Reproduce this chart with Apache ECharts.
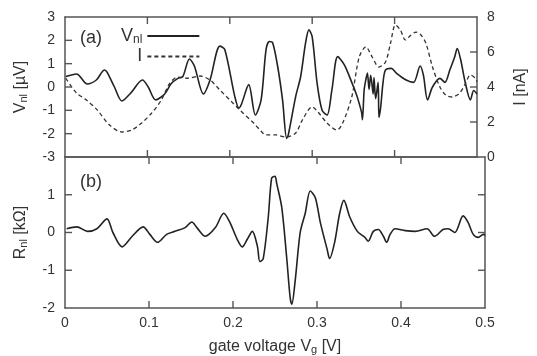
<!DOCTYPE html>
<html><head><meta charset="utf-8">
<script src="https://cdn.jsdelivr.net/npm/echarts@6/dist/echarts.min.js"></script>
<style>html,body{margin:0;padding:0;background:#fff}#c{width:537px;height:356px}</style>
</head><body><div id="c"></div>
<script>
// gate voltage (V) and V_nl (µV)
const vnlX = [0.001,0.014,0.027,0.038,0.048,0.051,0.060,0.069,0.080,0.094,0.101,0.110,0.121,0.129,0.137,0.143,0.151,0.157,0.168,0.176,0.188,0.194,0.206,0.211,0.214,0.223,0.231,0.238,0.244,0.248,0.252,0.258,0.264,0.269,0.271,0.280,0.286,0.292,0.296,0.300,0.306,0.312,0.318,0.324,0.331,0.339,0.348,0.354,0.357,0.360,0.361,0.363,0.365,0.367,0.369,0.371,0.374,0.375,0.377,0.380,0.381,0.383,0.386,0.389,0.396,0.402,0.414,0.423,0.431,0.435,0.440,0.446,0.455,0.461,0.467,0.473,0.476,0.480,0.486,0.492,0.496,0.500];
const vnlY = [0.45,0.56,0.13,0.30,0.73,0.64,0.0,-0.6,-0.25,0.3,0.0,-0.55,-0.3,0.15,0.37,0.45,1.2,0.9,-0.3,0.3,1.75,1.6,-0.4,-0.9,-0.75,0.1,-1.2,-0.55,1.6,1.95,1.9,0.9,-0.55,-2.2,-2.05,-0.4,0.45,1.9,2.45,2.15,0.15,-1.0,-1.2,-0.1,1.3,0.95,0.2,-0.35,-0.7,-1.1,-1.4,-0.15,0.3,0.6,-0.1,0.5,-0.3,0.4,-0.5,0.2,-1.3,-0.9,0.2,0.73,0.8,0.6,0.3,0.2,0.9,0.5,-0.55,0.0,0.37,0.2,0.73,1.3,1.65,1.2,0.15,-0.55,-0.15,-0.3];
// current I (nA)
const curX = [0.001,0.014,0.026,0.039,0.054,0.069,0.081,0.093,0.105,0.117,0.127,0.137,0.149,0.164,0.176,0.188,0.200,0.212,0.229,0.240,0.244,0.256,0.268,0.280,0.288,0.300,0.307,0.318,0.330,0.337,0.348,0.357,0.365,0.373,0.381,0.389,0.395,0.401,0.407,0.413,0.420,0.426,0.432,0.438,0.446,0.455,0.462,0.470,0.479,0.486,0.492,0.498,0.500];
const curY = [4.5,3.66,3.26,2.69,1.83,1.43,1.54,1.94,2.5,3.26,4.2,4.57,4.5,4.63,4.4,3.83,3.26,2.69,1.94,1.37,1.26,1.26,1.14,1.37,2.11,2.86,2.57,1.94,1.54,1.94,3.43,5.7,6.3,5.7,5.14,5.43,6.5,7.54,7.26,6.69,6.97,7.14,6.97,6.5,5.14,4.0,3.54,3.43,3.66,4.2,4.69,4.5,4.3];
// R_nl (kΩ)
const rnlX = [0.002,0.014,0.027,0.038,0.050,0.057,0.068,0.080,0.093,0.101,0.110,0.121,0.131,0.143,0.151,0.157,0.167,0.179,0.189,0.196,0.205,0.211,0.217,0.223,0.229,0.232,0.236,0.242,0.246,0.250,0.252,0.258,0.264,0.268,0.270,0.274,0.280,0.286,0.292,0.298,0.304,0.312,0.315,0.321,0.327,0.332,0.339,0.348,0.357,0.361,0.367,0.373,0.379,0.383,0.387,0.393,0.405,0.417,0.431,0.440,0.450,0.456,0.464,0.474,0.480,0.486,0.492,0.498,0.500];
const rnlY = [0.1,0.15,0.03,0.1,0.36,0.0,-0.38,-0.1,0.15,-0.05,-0.26,-0.05,0.03,0.13,0.28,0.13,-0.1,0.13,0.51,0.28,-0.18,-0.38,-0.18,0.03,-0.36,-0.77,-0.69,0.41,1.44,1.49,1.3,0.67,-0.69,-1.72,-1.9,-1.28,0.0,0.51,1.1,0.92,0.26,-0.44,-0.69,-0.26,0.51,0.85,0.41,0.03,-0.13,-0.23,0.03,0.08,-0.1,-0.26,-0.05,0.1,0.05,0.03,0.1,-0.1,0.08,0.1,0.0,0.44,0.26,-0.05,-0.13,-0.05,-0.08];
// tick values
const xTicks = [0.1,0.2,0.3,0.4];
const vnlTicks = [-2,-1,0,1,2];
const curTicks = [2,4,6];
const rnlTicks = [-1,0,1];

const pair = (xs, ys) => xs.map((x, i) => [x, ys[i]]);
const font = 'Liberation Sans, Arial, sans-serif';
const axisCol = '#555';
const txtCol = '#333';
const TL = 7;
const tickStyle = {stroke:'#555', lineWidth:1.4};
const tick = () => ({show:false});
const aline = () => ({show:true, onZero:false, lineStyle:{color:axisCol, width:1.5}});
const lbl = (extra) => Object.assign({color:txtCol, fontSize:14, fontFamily:font, margin:10}, extra || {});
const rich = {
  a:{fontSize:16, fontFamily:font, color:txtCol},
  s:{fontSize:11, fontFamily:font, color:txtCol, padding:[6,0,0,0]},
  L:{fontSize:18, fontFamily:font, color:txtCol},
  ls:{fontSize:12, fontFamily:font, color:txtCol, padding:[7,0,0,0]}
};
const xa = (grid, pos, extra) => Object.assign({gridIndex:grid, type:'value', min:0, max:0.5, interval:0.1, position:pos,
  axisLine:aline(), axisTick:tick(), axisLabel:{show:false}, splitLine:{show:false}}, extra || {});

// inward tick marks drawn through the axes' own scales
const xTickSeries = (xi, yi) => ({
  type:'custom', xAxisIndex:xi, yAxisIndex:yi, silent:true, z:5, clip:false,
  data: xTicks.map(v => [v, 0]),
  renderItem: (params, api) => {
    const cs = params.coordSys;
    const px = api.coord([api.value(0), 0])[0];
    return {type:'group', children:[
      {type:'line', shape:{x1:px, y1:cs.y, x2:px, y2:cs.y + TL}, style:tickStyle},
      {type:'line', shape:{x1:px, y1:cs.y + cs.height, x2:px, y2:cs.y + cs.height - TL}, style:tickStyle}
    ]};
  }
});
const yTickSeries = (xi, yi, vals, sides) => ({
  type:'custom', xAxisIndex:xi, yAxisIndex:yi, silent:true, z:5, clip:false,
  data: vals.map(v => [0, v]),
  renderItem: (params, api) => {
    const cs = params.coordSys;
    const py = api.coord([0, api.value(1)])[1];
    const ch = [];
    if (sides.indexOf('L') >= 0) ch.push({type:'line', shape:{x1:cs.x, y1:py, x2:cs.x + TL, y2:py}, style:tickStyle});
    if (sides.indexOf('R') >= 0) ch.push({type:'line', shape:{x1:cs.x + cs.width, y1:py, x2:cs.x + cs.width - TL, y2:py}, style:tickStyle});
    return {type:'group', children:ch};
  }
});

const chart = echarts.init(document.getElementById('c'));
chart.setOption({
  animation:false,
  grid:[
    {left:65, right:52, top:17, height:140},
    {left:65, right:52, top:157, height:155}
  ],
  xAxis:[
    xa(0, 'bottom'),
    xa(0, 'top'),
    xa(1, 'bottom', {axisLabel:lbl({margin:8, formatter: v => String(v)}),
      name:'{a|gate voltage V}{s|g}{a| [V]}', nameLocation:'middle', nameGap:30, nameTextStyle:{rich:rich}}),
    xa(1, 'top')
  ],
  yAxis:[
    {gridIndex:0, type:'value', min:-3, max:3, interval:1, position:'left', axisLine:aline(), axisTick:tick(), axisLabel:lbl(), splitLine:{show:false},
      name:'{a|V}{s|nl}{a| [µV]}', nameLocation:'middle', nameGap:36, nameRotate:90, nameTextStyle:{rich:rich}},
    {gridIndex:0, type:'value', min:0, max:8, interval:2, position:'right', axisLine:aline(), axisTick:tick(), axisLabel:lbl(), splitLine:{show:false},
      name:'{a|I [nA]}', nameLocation:'middle', nameGap:36, nameRotate:90, nameTextStyle:{rich:rich}},
    {gridIndex:1, type:'value', min:-2, max:2, interval:1, position:'left', axisLine:aline(), axisTick:tick(), axisLabel:lbl({showMaxLabel:false}), splitLine:{show:false},
      name:'{a|R}{s|nl}{a| [kΩ]}', nameLocation:'middle', nameGap:36, nameRotate:90, nameTextStyle:{rich:rich}},
    {gridIndex:1, type:'value', min:-2, max:2, interval:1, position:'right', axisLine:aline(), axisTick:tick(), axisLabel:{show:false}, splitLine:{show:false}}
  ],
  legend:{
    left:116, top:22, orient:'vertical', align:'right', itemWidth:52, itemHeight:10, itemGap:2,
    itemStyle:{opacity:0},
    textStyle:{rich:rich, color:txtCol},
    formatter: n => n === 'Vnl' ? '{L|V}{ls|nl}' : '{L|I}',
    data:['Vnl','I']
  },
  graphic:[
    {type:'text', left:80, top:29, style:{text:'(a)', font:'18px ' + font, fill:txtCol}},
    {type:'text', left:80, top:173, style:{text:'(b)', font:'18px ' + font, fill:txtCol}}
  ],
  series:[
    {name:'Vnl', type:'line', xAxisIndex:0, yAxisIndex:0, data:pair(vnlX, vnlY), smooth:0.3, symbol:'none', lineStyle:{color:'#222', width:1.6}, itemStyle:{color:'#222'}},
    {name:'I', type:'line', xAxisIndex:0, yAxisIndex:1, data:pair(curX, curY), smooth:0.3, symbol:'none', lineStyle:{color:'#333', width:1.3, type:[4,3]}, itemStyle:{color:'#333'}},
    {name:'Rnl', type:'line', xAxisIndex:2, yAxisIndex:2, data:pair(rnlX, rnlY), smooth:0.3, symbol:'none', lineStyle:{color:'#222', width:1.6}, itemStyle:{color:'#222'}},
    xTickSeries(0, 0),
    xTickSeries(2, 2),
    yTickSeries(0, 0, vnlTicks, 'L'),
    yTickSeries(0, 1, curTicks, 'R'),
    yTickSeries(2, 2, rnlTicks, 'LR')
  ]
});
</script></body></html>
